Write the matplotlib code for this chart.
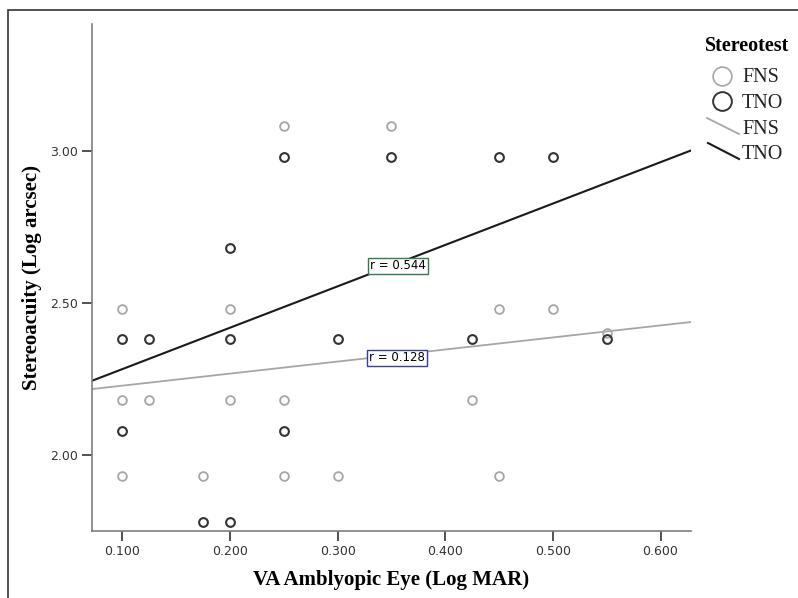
import numpy as np
import matplotlib
matplotlib.use("Agg")
import matplotlib.pyplot as plt
from matplotlib.lines import Line2D
from matplotlib.patches import Rectangle

# VA of amblyopic eye (log MAR) and stereoacuity (log arcsec)
fns_va = [0.100, 0.100, 0.100, 0.125, 0.175, 0.200, 0.200, 0.250, 0.250, 0.250,
          0.300, 0.350, 0.425, 0.450, 0.450, 0.500, 0.550]
fns_stereo = [2.48, 2.18, 1.93, 2.18, 1.93, 2.48, 2.18, 3.08, 2.18, 1.93,
              1.93, 3.08, 2.18, 2.48, 1.93, 2.48, 2.40]

tno_va = [0.100, 0.100, 0.125, 0.175, 0.200, 0.200, 0.200, 0.250, 0.250,
          0.300, 0.350, 0.425, 0.450, 0.500, 0.550]
tno_stereo = [2.38, 2.08, 2.38, 1.78, 2.68, 2.38, 1.78, 2.98, 2.08,
              2.38, 2.98, 2.38, 2.98, 2.98, 2.38]

# fit lines (intercept, slope)
fns_fit = [2.188, 0.396]
tno_fit = [2.146, 1.360]
fns_r = 0.128
tno_r = 0.544

x_ticks = [0.1, 0.2, 0.3, 0.4, 0.5, 0.6]
y_ticks = [2.0, 2.5, 3.0]

gray = "#a6a6a6"
dark = "#333333"
serif = "Liberation Serif"
sans = "DejaVu Sans"

fig = plt.figure(figsize=(7.98, 5.98), dpi=100)

# outer frame (only top and left visible)
fig.patches.append(Rectangle((8 / 798, -0.1), 1.2, 1.1 - 10 / 598,
                             transform=fig.transFigure, fill=False,
                             edgecolor=dark, linewidth=1.2))

ax = fig.add_axes([92 / 798, 1 - 530.7 / 598, 598.7 / 798, 506.7 / 598])
ax.set_xlim(0.0718, 0.628)
ax.set_ylim(1.751, 3.416)

# fit lines
xs = np.array(ax.get_xlim())
ax.plot(xs, fns_fit[0] + fns_fit[1] * xs, color=gray, lw=1.3, zorder=2)
ax.plot(xs, tno_fit[0] + tno_fit[1] * xs, color="#1a1a1a", lw=1.5, zorder=2)

# points
ax.plot(fns_va, fns_stereo, "o", ms=6.3, mfc="none", mec=gray, mew=1.3, zorder=3)
ax.plot(tno_va, tno_stereo, "o", ms=6.3, mfc="none", mec=dark, mew=1.5, zorder=3)

# r labels
ax.text(0.356, 2.621, "r = %.3f" % tno_r, fontsize=8.5, family=sans,
        ha="center", va="center", zorder=4,
        bbox=dict(boxstyle="square,pad=0.15", fc="white", ec="#2e7d4f", lw=1))
ax.text(0.355, 2.319, "r = %.3f" % fns_r, fontsize=8.5, family=sans,
        ha="center", va="center", zorder=4,
        bbox=dict(boxstyle="square,pad=0.15", fc="white", ec="#3a3a9a", lw=1))

for s in ["top", "right"]:
    ax.spines[s].set_visible(False)
for s in ["left", "bottom"]:
    ax.spines[s].set_color("#7f7f7f")
    ax.spines[s].set_linewidth(1.2)

ax.set_xticks(x_ticks)
ax.set_xticklabels(["%.3f" % v for v in x_ticks])
ax.set_yticks(y_ticks)
ax.set_yticklabels(["%.2f" % v for v in y_ticks])
ax.tick_params(direction="out", length=7, width=1.2, color=dark,
               labelsize=9, labelcolor=dark, pad=3)

ax.set_xlabel("VA Amblyopic Eye (Log MAR)", family=serif, fontweight="bold",
              fontsize=15, va="center")
ax.set_ylabel("Stereoacuity (Log arcsec)", family=serif, fontweight="bold",
              fontsize=15, va="center")
ax.xaxis.set_label_coords(0.5, -0.097)
ax.yaxis.set_label_coords(-0.100, 0.5)

# legend drawn by hand
def fx(px):
    return px / 798

def fy(py):
    return 1 - py / 598

fig.text(fx(747), fy(46), "Stereotest", family=serif, fontweight="bold",
         fontsize=14.5, ha="center", va="center")
fig.add_artist(Line2D([fx(722)], [fy(76)], marker="o", ms=13.5, mfc="none",
                      mec=gray, mew=1.2))
fig.add_artist(Line2D([fx(722)], [fy(101)], marker="o", ms=13.5, mfc="none",
                      mec=dark, mew=1.4))
fig.add_artist(Line2D([fx(707), fx(739)], [fy(118), fy(134)], color=gray, lw=1.3))
fig.add_artist(Line2D([fx(708), fx(739)], [fy(143), fy(159)], color="#1a1a1a", lw=1.5))
for label, py in [("FNS", 78), ("TNO", 103), ("FNS", 129), ("TNO", 155)]:
    fig.text(fx(742), fy(py), label, family=serif, fontsize=14.5,
             ha="left", va="center", color="#222222")

fig.savefig("out.png", dpi=100)
